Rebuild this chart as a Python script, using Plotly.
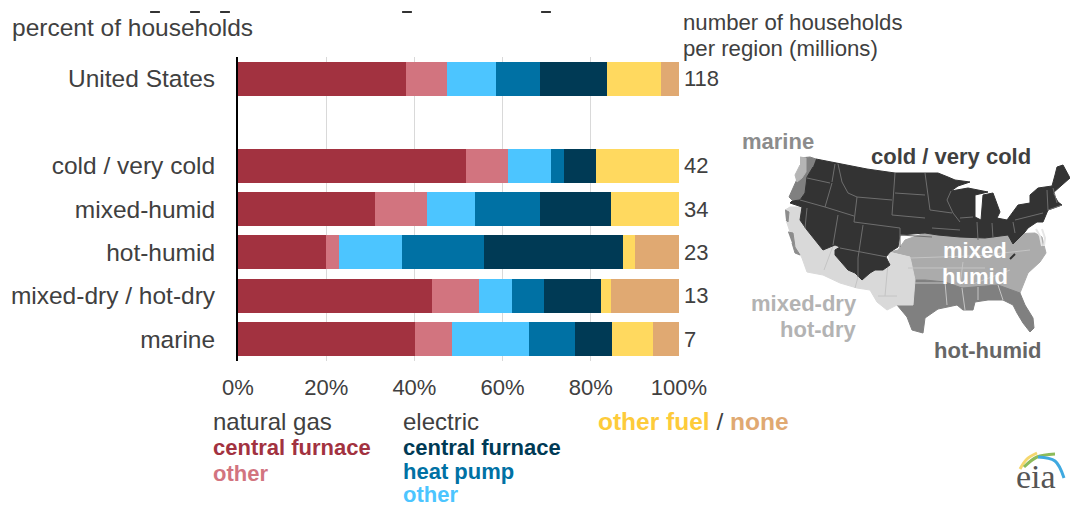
import plotly.graph_objects as go

FONT = "Liberation Sans"
TEXT = "#404040"

categories = ["United States", "\u00a0", "cold / very cold", "mixed-humid", "hot-humid", "mixed-dry / hot-dry", "marine"]
households = ["118", "", "42", "34", "23", "13", "7"]

gas_central = [38.2, 0, 51.6, 31.0, 19.9, 44.1, 40.2]
gas_other = [9.2, 0, 9.7, 11.8, 3.0, 10.5, 8.4]
electric_other = [11.0, 0, 9.7, 10.9, 14.3, 7.6, 17.3]
electric_heat_pump = [10.1, 0, 3.0, 14.8, 18.6, 7.1, 10.6]
electric_central = [15.1, 0, 7.2, 16.0, 31.6, 13.0, 8.3]
other_fuel = [12.3, 0, 18.8, 15.5, 2.7, 2.2, 9.4]
no_heating = [4.1, 0, 0.0, 0.0, 9.9, 15.5, 5.8]

series = [
    ("natural gas central furnace", gas_central, "#A23240"),
    ("natural gas other", gas_other, "#D2747F"),
    ("electric other", electric_other, "#4CC5FF"),
    ("electric heat pump", electric_heat_pump, "#0071A4"),
    ("electric central furnace", electric_central, "#003A55"),
    ("other fuel", other_fuel, "#FFD95F"),
    ("none", no_heating, "#E0A972"),
]

# map regions (map axes run in picture pixels)
humid_x = [890, 898, 905, 925, 960, 985, 1008, 1035, 1042, 1046, 1040, 1028, 1020, 998, 978, 962, 945, 925, 915, 910]
humid_y = [252, 250, 240, 233, 236, 237, 234, 233, 237, 253, 262, 273, 293, 285, 287, 288, 282, 280, 280, 257]

hot_x = [913, 915, 925, 945, 962, 978, 998, 1020, 1025, 1033, 1034, 1030, 1023, 1017, 1013, 1003, 988, 975, 973, 963, 957, 938, 925, 923, 912, 907, 897]
hot_y = [305, 280, 280, 282, 288, 287, 285, 293, 305, 318, 328, 332, 323, 313, 305, 300, 300, 302, 310, 310, 305, 309, 318, 333, 330, 317, 305]

dry_x = [785, 790, 802, 800, 807, 812, 822, 835, 840, 835, 835, 848, 862, 870, 880, 890, 888, 910, 915, 913, 897, 887, 877, 870, 857, 840, 823, 807, 802, 795, 790, 786]
dry_y = [210, 207, 207, 220, 230, 237, 248, 245, 247, 250, 255, 270, 277, 267, 270, 263, 252, 257, 280, 305, 305, 310, 302, 290, 288, 283, 275, 272, 258, 245, 232, 220]

cold_x = [816, 840, 867, 895, 925, 938, 948, 955, 970, 958, 951, 968, 988, 975, 975, 981, 983, 993, 1000, 997, 1007, 1018, 1030, 1030, 1038, 1052, 1055, 1057, 1063, 1070, 1062, 1053, 1058, 1062, 1048, 1043, 1037, 1028, 1025, 1013, 1008, 985, 960, 938, 925, 900, 898, 890, 886, 890, 883, 875, 870, 862, 855, 848, 835, 835, 840, 835, 823, 812, 807, 800, 802, 790, 792, 800, 805, 807, 813]
cold_y = [159, 164, 169, 173, 173, 173, 177, 180, 182, 186, 191, 188, 192, 195, 217, 220, 195, 193, 212, 218, 220, 205, 203, 195, 188, 186, 175, 167, 165, 178, 185, 193, 202, 205, 210, 222, 222, 228, 232, 244, 235, 238, 237, 235, 233, 235, 247, 252, 257, 265, 270, 270, 273, 280, 273, 270, 255, 250, 247, 245, 250, 237, 230, 220, 207, 203, 201, 200, 193, 177, 167]

marine_x = [800, 810, 816, 813, 807, 805, 800, 792, 789, 795, 802]
marine_y = [158, 157, 159, 167, 177, 193, 200, 200, 197, 183, 168]

wa_coast_x = [800, 806, 806, 802, 797, 795, 800]
wa_coast_y = [157, 158, 172, 178, 182, 175, 165]

ca_coast_x = [788, 793, 795, 800, 795, 792, None, 785, 789, 788, 786]
ca_coast_y = [232, 233, 247, 255, 253, 243, None, 210, 212, 222, 220]

cold_lines_x = [807, 830, None, 835, 832, None, 838, 842, 848, 857, None, 832, 825, None, 800, 825, 854, None, 857, 854, None, 857, 892, None, 854, 900, None, 895, 892, None, 838, 833, None, 807, 805, None, 863, 858, 858, None, 840, 887, None, 900, 900, None, 895, 925, None, 892, 925, None, 900, 932, None, 925, 928, 930, None, 951, 947, 953, 960, None, 930, 952, None, 932, 960, None, 960, 973, None, 977, 978, None, 992, 993, None, 1013, 1015, None, 1015, 1043, None, 1047, 1048, None, 1053, 1057, None, 1048, 1062]
cold_lines_y = [178, 183, None, 164, 182, None, 164, 182, 193, 197, None, 183, 207, None, 200, 207, 216, None, 197, 222, None, 197, 200, None, 222, 228, None, 173, 215, None, 215, 245, None, 208, 228, None, 225, 258, 277, None, 248, 257, None, 228, 247, None, 193, 195, None, 215, 218, None, 235, 237, None, 173, 195, 210, None, 191, 200, 213, 222, None, 210, 213, None, 228, 230, None, 218, 217, None, 222, 240, None, 223, 238, None, 222, 233, None, 220, 213, None, 190, 210, None, 188, 203, None, 210, 205]

pale_lines_x = [833, 824, None, 858, 855, None, 888, 885, None, 878, 897, None, 910, 1000, None, 908, 985, None, 915, 945, None, 945, 947, None, 962, 965, None, 978, 978, None, 998, 1003, None, 985, 1030, None, 963, 960, None, 973, 1010]
pale_lines_y = [246, 270, None, 277, 288, None, 263, 296, None, 296, 296, None, 258, 255, None, 268, 268, None, 283, 283, None, 282, 305, None, 288, 310, None, 287, 300, None, 285, 300, None, 255, 250, None, 262, 285, None, 284, 270]

# Chesapeake streaks and the dark sliver in Virginia
bay_x = [1036, 1040, 1042, None, 1042, 1045, 1044]
bay_y = [229, 236, 246, None, 229, 238, 246]
sliver_x = [1010, 1015]
sliver_y = [259, 254]

# clipped title descenders left at the top edge of the picture
title_marks_x = [155, 195, 225, 407, 546]
title_marks_y = [12, 12, 12, 12, 12]

logo_yellow_x = [1020, 1027, 1037]
logo_yellow_y = [469, 459, 453]
logo_green_x = [1024, 1037, 1055]
logo_green_y = [467, 457, 454]
logo_blue_x = [1038, 1055, 1064]
logo_blue_y = [457, 461, 478]

# label, x, y, anchor, size, colour
map_labels = [
    ("<b>marine</b>", 778, 141, "center", 22, "#8C8C8C"),
    ("<b>cold / very cold</b>", 951, 156, "center", 22, "#404040"),
    ("<b>mixed</b>", 975, 250, "center", 22, "#FFFFFF"),
    ("<b>humid</b>", 975, 276, "center", 22, "#FFFFFF"),
    ("<b>mixed-dry</b>", 859, 303, "right", 22, "#B3B3B3"),
    ("<b>hot-dry</b>", 859, 329, "right", 22, "#B3B3B3"),
    ("<b>hot-humid</b>", 988, 350, "center", 22, "#666666"),
]

# label, x, y, size, colour
legend_labels = [
    ("natural gas", 211, 421, 24, TEXT),
    ("<b>central furnace</b>", 211, 447, 22, "#A23240"),
    ("<b>other</b>", 211, 473, 22, "#D2747F"),
    ("electric", 401, 421, 24, TEXT),
    ("<b>central furnace</b>", 401, 447, 22, "#003A55"),
    ("<b>heat pump</b>", 401, 471, 22, "#0071A4"),
    ("<b>other</b>", 401, 494.5, 22, "#4CC5FF"),
    ('<b><span style="color:#FDCB3A">other fuel</span></b> / <b><span style="color:#E0A972">none</span></b>', 596, 421, 24.5, TEXT),
]

header_labels = [
    ("percent of households", 10, 27, 24.5),
    ("number of households", 681, 22, 22.2),
    ("per region (millions)", 681, 48, 22.2),
]

fig = go.Figure()

for name, values, colour in series:
    fig.add_trace(
        go.Bar(x=values, y=categories, orientation="h", name=name, marker_color=colour, marker_line_width=0)
    )


def add_region(xs, ys, colour):
    fig.add_trace(
        go.Scatter(
            x=xs, y=ys, xaxis="x2", yaxis="y2", mode="lines", fill="toself",
            fillcolor=colour, line=dict(color=colour, width=1),
        )
    )


def add_lines(xs, ys, colour, width=1, shape="linear"):
    fig.add_trace(
        go.Scatter(
            x=xs, y=ys, xaxis="x2", yaxis="y2", mode="lines",
            line=dict(color=colour, width=width, shape=shape),
        )
    )


add_region(humid_x, humid_y, "#ABABAB")
add_region(hot_x, hot_y, "#808080")
add_region(dry_x, dry_y, "#D9D9D9")
add_region(marine_x, marine_y, "#808080")
add_region(wa_coast_x, wa_coast_y, "#B5B5B5")
add_region(ca_coast_x, ca_coast_y, "#8C8C8C")
add_lines(pale_lines_x, pale_lines_y, "#C4C4C4")
add_lines(bay_x, bay_y, "#E6E6E6", 2)
add_lines(sliver_x, sliver_y, "#333333", 2)
add_region(cold_x, cold_y, "#333333")
add_lines(cold_lines_x, cold_lines_y, "#6E6E6E")

add_lines(logo_yellow_x, logo_yellow_y, "#F5D76E", 3, "spline")
add_lines(logo_green_x, logo_green_y, "#8DBB5A", 3, "spline")
add_lines(logo_blue_x, logo_blue_y, "#3FA9E0", 3, "spline")

fig.add_trace(
    go.Scatter(
        x=title_marks_x, y=title_marks_y, xaxis="x2", yaxis="y2", mode="markers",
        marker=dict(symbol="line-ew", size=7, line=dict(color="#333333", width=2)),
    )
)

annotations = []
for label, x, y, anchor, size, colour in map_labels:
    annotations.append(
        dict(text=label, x=x, y=y, xanchor=anchor, font=dict(size=size, color=colour, family=FONT))
    )
for label, x, y, size, colour in legend_labels:
    annotations.append(
        dict(text=label, x=x, y=y, xanchor="left", font=dict(size=size, color=colour, family=FONT))
    )
for label, x, y, size in header_labels:
    annotations.append(
        dict(text=label, x=x, y=y, xanchor="left", font=dict(size=size, color=TEXT, family=FONT))
    )
annotations.append(
    dict(text="eia", x=1036, y=476, xanchor="center", font=dict(size=34, color="#555555", family="Liberation Serif"))
)
for a in annotations:
    a.update(xref="x2", yref="y2", yanchor="middle", showarrow=False)

# household counts sit just past the 100% end of each bar
for category, count in zip(categories, households):
    if count:
        annotations.append(
            dict(
                text=count, x=100, y=category, xref="x", yref="y", xanchor="left", yanchor="middle",
                xshift=3, showarrow=False, font=dict(size=22, color=TEXT, family=FONT),
            )
        )

fig.update_layout(
    width=1070,
    height=506,
    margin=dict(l=0, r=0, t=0, b=0),
    paper_bgcolor="white",
    plot_bgcolor="rgba(0,0,0,0)",
    barmode="stack",
    bargap=0.22,
    showlegend=False,
    hovermode=False,
    font=dict(family=FONT, color=TEXT),
    annotations=annotations,
    xaxis=dict(
        domain=[238 / 1070, 679 / 1070],
        range=[0, 100],
        tickvals=[0, 20, 40, 60, 80, 100],
        ticktext=["0%", "20%", "40%", "60%", "80%", "100%"],
        tickfont=dict(size=22, color=TEXT),
        ticks="outside",
        ticklen=7,
        tickcolor="rgba(0,0,0,0)",
        showgrid=True,
        gridcolor="#D9D9D9",
        gridwidth=1,
        zeroline=False,
        automargin=False,
    ),
    yaxis=dict(
        domain=[1 - 361 / 506, 1 - 57 / 506],
        type="category",
        categoryorder="array",
        categoryarray=categories,
        autorange="reversed",
        tickfont=dict(size=24.5, color=TEXT),
        ticks="outside",
        ticklen=16,
        tickcolor="rgba(0,0,0,0)",
        showline=True,
        linecolor="#000000",
        linewidth=2,
        showgrid=False,
        automargin=False,
    ),
    xaxis2=dict(domain=[0, 1], range=[0, 1070], visible=False, anchor="y2"),
    yaxis2=dict(domain=[0, 1], range=[506, 0], visible=False, anchor="x2"),
)

fig.write_html("out.html", config={"displayModeBar": False}, post_script="document.body.style.margin='0';")
